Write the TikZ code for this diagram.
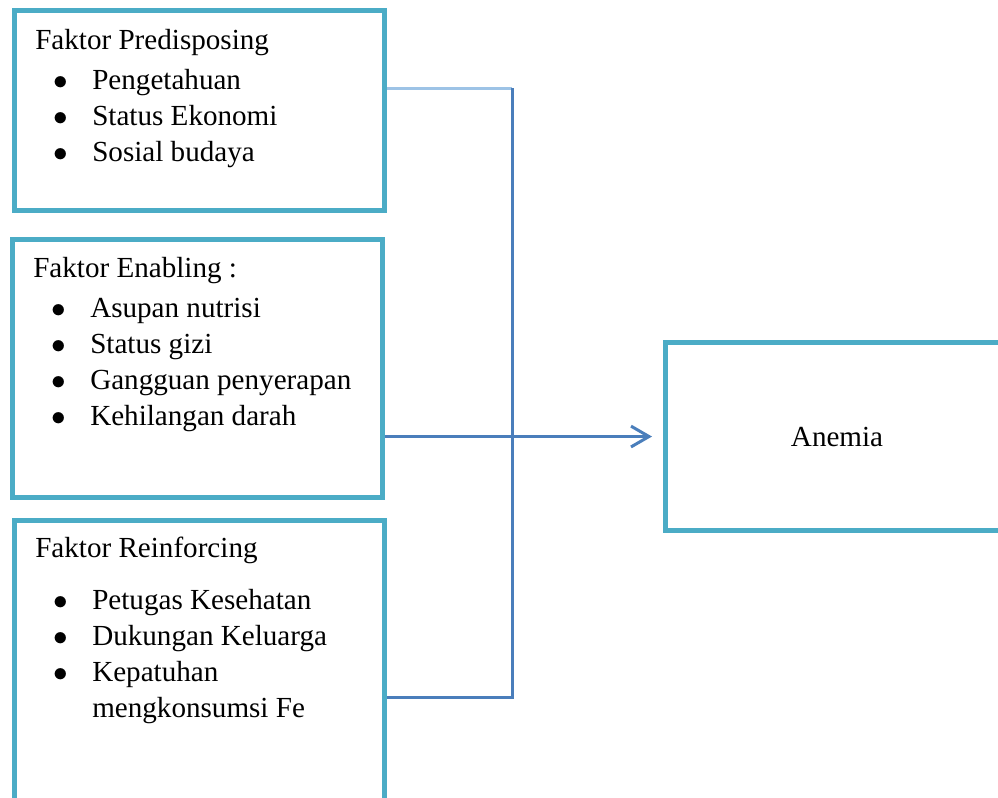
\documentclass[tikz,border=0pt]{standalone}
\usepackage{fontspec}
\setmainfont{Liberation Serif}
\usetikzlibrary{arrows.meta}
\definecolor{tepi}{HTML}{4BACC6}
\definecolor{panah}{HTML}{4A7EBB}
\definecolor{panahmuda}{HTML}{9DC3E6}
\newcommand{\butir}[1]{\hspace*{0.45cm}\makebox[0.975cm][l]{$\bullet$}#1}

\begin{document}
\begin{tikzpicture}[x=0.025cm, y=-0.025cm,
  kotak/.style={draw=tepi, line width=0.125cm, rectangle, anchor=north west, minimum width=9.25cm, inner sep=0pt},
  isi/.style={anchor=base west, align=left, inner sep=0pt, font=\fontsize{20.7}{25.6}\selectfont},
  garis/.style={draw=panah, line width=0.075cm}]
\useasboundingbox (0,0) rectangle (998,797);
\clip (0,0) rectangle (998,797);
\fill[white] (0,0) rectangle (998,797);
% kotak faktor
\node[kotak, minimum height=5cm] (pre) at (12,8) {};
\node[kotak, minimum height=6.45cm] (ena) at (10,237) {};
\node[kotak, minimum height=7.5cm] (rei) at (12,518) {};
\node[kotak, minimum width=8.575cm, minimum height=4.7cm, font=\fontsize{20.7}{25.6}\selectfont] (anemia) at (663,340) {Anemia};
% isi kotak (titik acuan = baris terakhir)
\node[isi] (pre-isi) at (35,161) {Faktor Predisposing\\[1mm] \butir{Pengetahuan}\\ \butir{Status Ekonomi}\\ \butir{Sosial budaya}};
\node[isi] (ena-isi) at (33,425) {Faktor Enabling :\\[1mm] \butir{Asupan nutrisi}\\ \butir{Status gizi}\\ \butir{Gangguan penyerapan}\\ \butir{Kehilangan darah}};
\node[isi] (rei-isi) at (35,717) {Faktor Reinforcing\\[4mm] \butir{Petugas Kesehatan}\\ \butir{Dukungan Keluarga}\\ \butir{Kepatuhan}\\ \hspace*{1.425cm}mengkonsumsi Fe};
% garis penghubung
\coordinate (atas) at (512,88);
\coordinate (bawah) at (512,697);
\draw[garis, draw=panahmuda] (pre.east |- atas) -- (atas);
\draw[garis] (atas) -- (bawah) -- (rei.east |- bawah);
\draw[garis, -{Straight Barb[length=0.45cm, width=0.52cm]}, shorten >=0.275cm] (ena.east |- anemia.west) -- (anemia.west);
\end{tikzpicture}
\end{document}
